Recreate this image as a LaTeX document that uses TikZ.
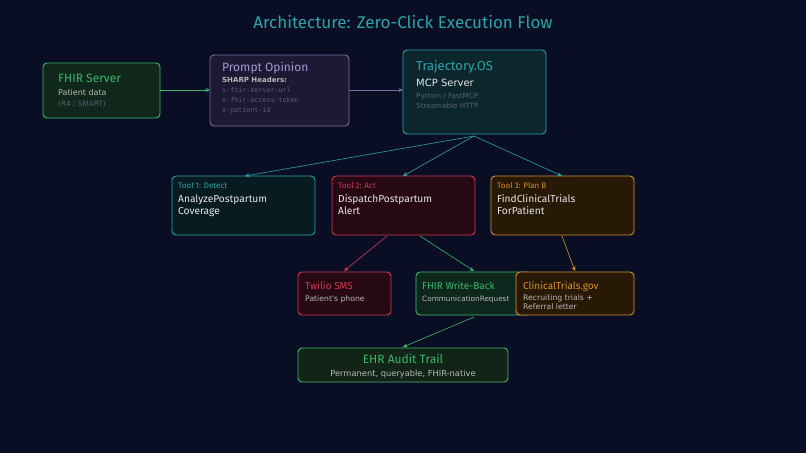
\documentclass[tikz,border=0pt]{standalone}
\usepackage{fontspec}
\setmainfont{Fira Sans}
\newfontfamily\dv{DejaVu Sans}
\newfontfamily\dvm{DejaVu Sans Mono}
\usetikzlibrary{arrows.meta}
\definecolor{bg}{HTML}{0A0E24}
\definecolor{teal}{HTML}{2BA3A8}
\definecolor{grn}{HTML}{3CB86A}
\definecolor{lav}{HTML}{A898D8}
\definecolor{lavb}{HTML}{7A6AA8}
\definecolor{crim}{HTML}{D03A55}
\definecolor{orng}{HTML}{D9922A}
\definecolor{wht}{HTML}{E6E6E6}
\definecolor{gry}{HTML}{B8B8B8}
\definecolor{dim}{HTML}{5A5E70}
\definecolor{fgrn}{HTML}{0F281B}
\definecolor{flav}{HTML}{1D1933}
\definecolor{fteal}{HTML}{0B272D}
\definecolor{ftl}{HTML}{081B20}
\definecolor{fred}{HTML}{260913}
\definecolor{forg}{HTML}{271905}
\definecolor{fgr2}{HTML}{0E271C}
\definecolor{fgr3}{HTML}{122418}
\tikzset{
  box/.style={draw=#1, rounded corners=4pt, line width=0.9pt},
  txt/.style={anchor=base west, inner sep=0pt},
  arr/.style={draw=#1, line width=0.8pt, -{Stealth[length=4.5pt,width=4pt]}},
  small/.style={font=\dv\fontsize{7.7}{9}\selectfont},
}
\begin{document}
\begin{tikzpicture}[x=1pt,y=-1pt]
\fill[bg] (0,0) rectangle (806,453);
\useasboundingbox (0,0) rectangle (806,453);

\node[anchor=base, inner sep=0pt, text=teal, font=\fontsize{17}{20}\selectfont] (title) at (403,28) {Architecture: Zero-Click Execution Flow};

% boxes
\draw[box=grn, fill=fgrn] (43,63) rectangle (160,118);
\coordinate (fhirE) at (160,90);
\node[txt, text=grn, font=\fontsize{12}{14}\selectfont] (f1) at (58,82) {FHIR Server};
\node[txt, text=gry, font=\dv\fontsize{8}{9}\selectfont] (f2) at (58,95) {Patient data};
\node[txt, text=dim, font=\dv\fontsize{7.3}{9}\selectfont] (f3) at (58,106) {(R4 / SMART)};

\draw[box=lavb, fill=flav] (210,55) rectangle (349,126);
\coordinate (poW) at (210,90);
\coordinate (poE) at (349,90);
\node[txt, text=lav, font=\fontsize{12}{14}\selectfont] (p1) at (222,71) {Prompt Opinion};
\node[txt, text=gry, font=\dv\bfseries\fontsize{7}{9}\selectfont] (p2) at (222,82) {SHARP Headers:};
\node[txt, text=dim, font=\dvm\fontsize{6.7}{8}\selectfont] (p3) at (222,92.5) {x-fhir-server-url};
\node[txt, text=dim, font=\dvm\fontsize{6.7}{8}\selectfont] (p4) at (222,102.5) {x-fhir-access-token};
\node[txt, text=dim, font=\dvm\fontsize{6.7}{8}\selectfont] (p5) at (222,112) {x-patient-id};

\draw[box=teal, fill=fteal] (403,50) rectangle (546,134);
\coordinate (trW) at (403,90);
\coordinate (trS) at (474,136);
\node[txt, text=teal, font=\fontsize{13}{15}\selectfont] (t1) at (416,70.5) {Trajectory.OS};
\node[txt, text=wht, font=\dv\fontsize{10}{12}\selectfont] (t2) at (416,86) {MCP Server};
\node[txt, text=dim, font=\dv\fontsize{7.2}{9}\selectfont] (t3) at (416,98) {Python / FastMCP};
\node[txt, text=dim, font=\dv\fontsize{7.2}{9}\selectfont] (t4) at (416,108) {Streamable HTTP};

% tools
\draw[box=teal, fill=ftl] (172,176) rectangle (315,235);
\coordinate (a1N) at (245,176);
\node[txt, text=teal, font=\fontsize{8}{10}\selectfont] (a1) at (178,188) {Tool 1: Detect};
\node[txt, text=wht, font=\fontsize{10.2}{12}\selectfont] (a2) at (178,202) {AnalyzePostpartum};
\node[txt, text=wht, font=\fontsize{10.2}{12}\selectfont] (a3) at (178,214) {Coverage};

\draw[box=crim, fill=fred] (332,176) rectangle (475,235);
\coordinate (b1N) at (403,176);
\coordinate (b1SL) at (387,236);
\coordinate (b1SR) at (420,236);
\node[txt, text=crim, font=\fontsize{8}{10}\selectfont] (b1) at (338,188) {Tool 2: Act};
\node[txt, text=wht, font=\fontsize{10.2}{12}\selectfont] (b2) at (338,202) {DispatchPostpartum};
\node[txt, text=wht, font=\fontsize{10.2}{12}\selectfont] (b3) at (338,214) {Alert};

\draw[box=orng, fill=forg] (491,176) rectangle (634,235);
\coordinate (c1N) at (562,176);
\coordinate (c1S) at (562,236);
\node[txt, text=orng, font=\fontsize{8}{10}\selectfont] (c1) at (497,188) {Tool 3: Plan B};
\node[txt, text=wht, font=\fontsize{10.2}{12}\selectfont] (c2) at (497,202) {FindClinicalTrials};
\node[txt, text=wht, font=\fontsize{10.2}{12}\selectfont] (c3) at (497,214) {ForPatient};

% outputs
\draw[box=crim, fill=fred] (298,272) rectangle (391,315);
\coordinate (twN) at (344,271);
\node[txt, text=crim, font=\fontsize{10}{12}\selectfont] (w1) at (305,289) {Twilio SMS};
\node[txt, text=gry, small] (w2) at (305,301) {Patient's phone};

\draw[box=grn, fill=fgr2] (416,272) rectangle (530,315);
\coordinate (wbN) at (474,271);
\coordinate (wbS) at (474,317);
\node[txt, text=grn, font=\fontsize{10}{12}\selectfont] (x1) at (422,289) {FHIR Write-Back};
\node[txt, text=gry, font=\dv\fontsize{7.3}{9}\selectfont] (x2) at (422,301) {CommunicationRequest};

\draw[box=orng, fill=forg] (516,272) rectangle (634,315);
\coordinate (ctN) at (575,271);
\node[txt, text=orng, font=\fontsize{10}{12}\selectfont] (y1) at (523,289) {ClinicalTrials.gov};
\node[txt, text=gry, small] (y2) at (523,300) {Recruiting trials +};
\node[txt, text=gry, small] (y3) at (523,309) {Referral letter};

\draw[box=grn, fill=fgr3] (298,348) rectangle (508,382);
\coordinate (ehN) at (403,347);
\node[anchor=base, inner sep=0pt, text=grn, font=\fontsize{12}{14}\selectfont] (e1) at (403,363) {EHR Audit Trail};
\node[anchor=base, inner sep=0pt, text=gry, font=\dv\fontsize{8.3}{9}\selectfont] (e2) at (403,376) {Permanent, queryable, FHIR-native};

% connectors
\draw[arr=grn] (fhirE) -- (poW);
\draw[arr=lavb] (poE) -- (trW);
\draw[arr=teal, line width=0.6pt] (trS) -- (a1N);
\draw[arr=teal, line width=0.6pt] (trS) -- (b1N);
\draw[arr=teal, line width=0.6pt] (trS) -- (c1N);
\draw[arr=crim, line width=0.6pt] (b1SL) -- (twN);
\draw[arr=grn, line width=0.6pt] (b1SR) -- (wbN);
\draw[arr=orng, line width=0.6pt] (c1S) -- (ctN);
\draw[arr=grn, line width=0.6pt] (wbS) -- (ehN);
\end{tikzpicture}
\end{document}
